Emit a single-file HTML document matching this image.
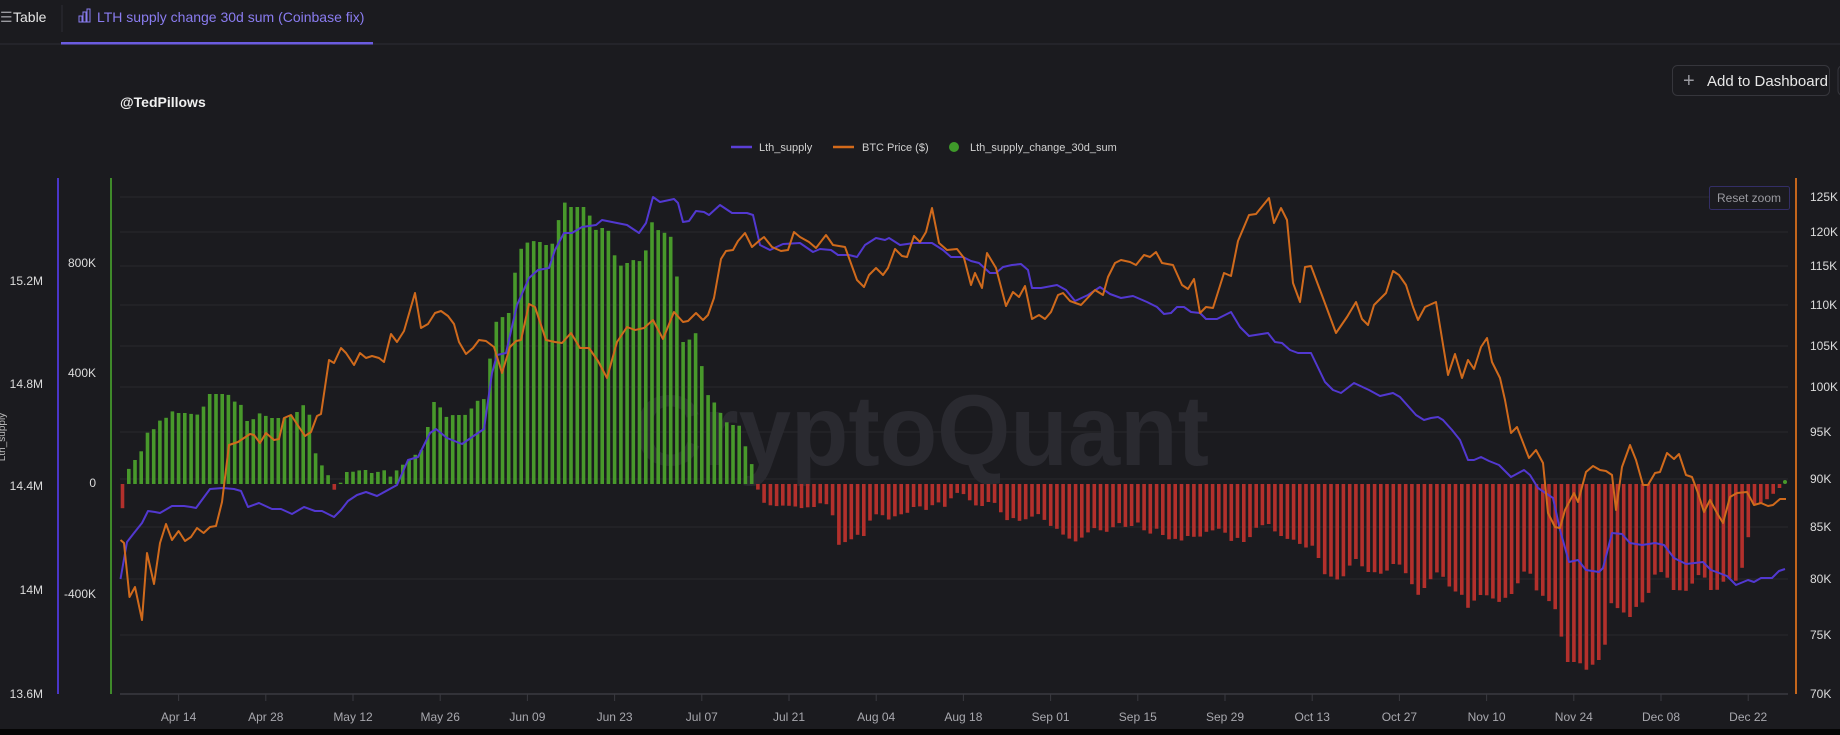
<!DOCTYPE html>
<html><head><meta charset="utf-8"><style>
html,body{margin:0;padding:0;background:#1b1b1f;width:1840px;height:735px;overflow:hidden}
svg{display:block}
text{font-family:"Liberation Sans",sans-serif}
</style></head><body>
<svg id="s" width="1840" height="735" viewBox="0 0 1840 735" xmlns="http://www.w3.org/2000/svg">
<rect width="1840" height="735" fill="#1b1b1f"/>
<line x1="0" y1="44" x2="1840" y2="44" stroke="#2e2e34" stroke-width="1"/>
<text x="0" y="22" font-size="14" fill="#9a9aa0">☰</text>
<text x="13" y="22" font-size="14" fill="#e6e6e6">Table</text>
<line x1="62" y1="5" x2="62" y2="32" stroke="#2e2e34"/>
<g stroke="#8a7cf0" stroke-width="1" fill="none"><rect x="79" y="16" width="3" height="6"/><rect x="83" y="12" width="3" height="10"/><rect x="87" y="9" width="3" height="13"/></g>
<text x="97" y="22" font-size="14" fill="#8a7cf0">LTH supply change 30d sum (Coinbase fix)</text>
<rect x="61" y="42" width="312" height="2.5" fill="#6b5ce0"/>
<text x="120" y="107" font-size="14" font-weight="bold" fill="#f0f0f0">@TedPillows</text>
<rect x="1672.5" y="65.5" width="157" height="30" rx="5" fill="none" stroke="#36363c"/>
<text x="1683" y="87" font-size="20" fill="#9a9aa0">+</text>
<text x="1707" y="86" font-size="15" fill="#e8e8e8">Add to Dashboard</text>
<rect x="1838" y="65.5" width="10" height="30" rx="5" fill="none" stroke="#36363c"/>
<line x1="731" y1="147" x2="752" y2="147" stroke="#5b3fd6" stroke-width="2.5"/>
<text x="759" y="151" font-size="11" fill="#d0d0d0">Lth_supply</text>
<line x1="833" y1="147" x2="854" y2="147" stroke="#d46a1a" stroke-width="2.5"/>
<text x="862" y="151" font-size="11" fill="#d0d0d0">BTC Price ($)</text>
<circle cx="954" cy="147" r="5" fill="#3f9a2a"/>
<text x="970" y="151" font-size="11" fill="#d0d0d0">Lth_supply_change_30d_sum</text>
<g id="grid"></g>
<text x="634" y="465" font-size="100" font-weight="bold" fill="#2a2a30" textLength="575" lengthAdjust="spacingAndGlyphs">CryptoQuant</text>
<g id="bars"></g>
<g id="lines"></g>
<line x1="58" y1="178" x2="58" y2="694" stroke="#4a36c8" stroke-width="2"/>
<line x1="111" y1="178" x2="111" y2="694" stroke="#3f8a2a" stroke-width="2"/>
<line x1="1796" y1="178" x2="1796" y2="694" stroke="#c4661c" stroke-width="2"/>
<line x1="120" y1="694" x2="1788" y2="694" stroke="#3a3a40" stroke-width="1.5"/>
<g font-size="12" fill="#dcdcdc" text-anchor="end">
<text x="43" y="285">15.2M</text><text x="43" y="388">14.8M</text><text x="43" y="490">14.4M</text><text x="43" y="594">14M</text><text x="43" y="698">13.6M</text>
<text x="96" y="267">800K</text><text x="96" y="377">400K</text><text x="96" y="487">0</text><text x="96" y="598">-400K</text>
</g>
<text transform="translate(5,437) rotate(-90)" font-size="10" fill="#bbb" text-anchor="middle">Lth_supply</text>
<g font-size="12" fill="#dcdcdc">
<text x="1810" y="201">125K</text><text x="1810" y="236">120K</text><text x="1810" y="270">115K</text><text x="1810" y="309">110K</text><text x="1810" y="350">105K</text><text x="1810" y="391">100K</text><text x="1810" y="436">95K</text><text x="1810" y="483">90K</text><text x="1810" y="531">85K</text><text x="1810" y="583">80K</text><text x="1810" y="639">75K</text><text x="1810" y="698">70K</text>
</g>
<g id="xl" font-size="12" fill="#a8a8ae" text-anchor="middle"></g>
<rect x="1709.5" y="186.5" width="80" height="23" rx="2" fill="#1b1b1f" stroke="#332e66"/>
<text x="1749" y="202" font-size="12" fill="#9a9aa0" text-anchor="middle">Reset zoom</text>
<rect x="0" y="729" width="1840" height="6" fill="#050505"/>
</svg>
<script>
var NS="http://www.w3.org/2000/svg";
function el(p,t,a){var e=document.createElementNS(NS,t);for(var k in a)e.setAttribute(k,a[k]);p.appendChild(e);return e;}
var g=document.getElementById('grid');
[197,232,266,305,346,387,432,479,527,579,635].forEach(function(y){el(g,'line',{x1:120,y1:y,x2:1788,y2:y,stroke:'#29292e','stroke-width':1});});
var xl=document.getElementById('xl');
var labs=["Apr 14","Apr 28","May 12","May 26","Jun 09","Jun 23","Jul 07","Jul 21","Aug 04","Aug 18","Sep 01","Sep 15","Sep 29","Oct 13","Oct 27","Nov 10","Nov 24","Dec 08","Dec 22"];
labs.forEach(function(l,i){var x=178.6+i*87.2;el(xl,'line',{x1:x,y1:694,x2:x,y2:701,stroke:'#3a3a40'});var t=el(xl,'text',{x:x,y:721});t.textContent=l;});
function interp(pts,x){if(x<=pts[0][0])return pts[0][1];for(var i=1;i<pts.length;i++){if(x<=pts[i][0]){var a=pts[i-1],b=pts[i];return a[1]+(b[1]-a[1])*(x-a[0])/(b[0]-a[0]);}}return pts[pts.length-1][1];}
var S=1.1735;
var env=[[122,512],[128,470],[135,460],[141,452],[147,433],[154,429],[159,421],[166,418],[171,411],[178,413],[185,413],[192,414],[197,415],[204,406],[209,394],[216,394],[222,394],[229,395],[235,402],[241,405],[247,421],[254,419],[260,413],[266,416],[272,418],[279,418],[285,418],[291,415],[297,412],[303,405],[309,412],[315,452],[321,464],[328,475],[334,490],[340,484],[345,472],[351,472],[357,471],[364,469],[370,473],[376,473],[383,469],[390,477],[397,470],[408,460],[415,455],[421,452],[427,430],[434,402],[440,407],[446,417],[453,415],[459,415],[465,415],[471,409],[477,401],[484,399],[489,365],[496,322],[502,317],[508,318],[514,277],[520,250],[528,242],[534,241],[540,242],[546,245],[552,245],[558,222],[564,202],[571,207],[578,207],[584,207],[590,216],[596,230],[602,228],[608,229],[613,252],[620,266],[627,263],[633,260],[639,262],[646,250],[651,221],[658,230],[665,233],[671,237],[677,277],[683,342],[688,342],[695,330],[702,367],[708,395],[714,402],[720,412],[726,422],[733,425],[739,425],[745,445],[752,465]];
var prev=[[645,415],[650,428],[655,430],[660,432],[665,430],[670,432],[675,430],[680,433],[685,433],[690,432],[695,432],[700,428],[705,430],[710,440],[715,465],[720,462],[725,460],[730,455],[735,460],[740,445],[745,440],[750,435],[755,445],[760,440],[765,440],[770,437],[775,437],[780,430],[785,432],[790,435],[795,430],[800,428],[805,432],[810,425],[815,420],[820,420],[825,425],[830,430],[835,432],[840,430],[845,425],[850,432],[855,440],[860,445],[865,440],[870,445],[875,442],[880,440],[885,438],[890,443],[895,448],[900,450],[905,455],[910,458],[915,462],[920,460],[925,455],[930,452],[935,448],[940,455],[945,452],[950,448],[955,445],[960,450],[965,448],[970,445],[975,452],[980,455],[985,450],[990,455],[995,460],[1000,458],[1005,462],[1010,458],[1015,455],[1020,460],[1025,455],[1030,452],[1035,452],[1040,450],[1045,455],[1050,462],[1055,458],[1060,462],[1065,458],[1070,450],[1075,448],[1080,445],[1085,452],[1090,455],[1095,460],[1100,458],[1105,462]];
prev.forEach(function(p){env.push([p[0]*S,p[1]*S]);});
[[1307,548],[1312,545],[1317,558],[1321,558],[1324,574],[1330,576],[1336,580],[1343,577],[1350,565],[1355,558],[1361,565],[1367,572],[1374,572],[1380,574],[1386,572],[1392,564],[1399,564],[1405,572],[1411,582],[1417,596],[1423,590],[1430,580],[1436,572],[1442,575],[1448,585],[1454,592],[1460,590],[1467,609],[1473,602],[1479,595],[1486,595],[1492,598],[1499,602],[1505,598],[1511,595],[1518,583],[1523,572],[1529,570],[1536,590],[1542,595],[1547,600],[1554,604],[1560,630],[1567,662],[1573,662],[1579,662],[1586,670],[1592,665],[1598,662],[1605,645],[1611,603],[1616,607],[1623,612],[1630,617],[1636,607],[1642,603],[1648,595],[1654,575],[1661,572],[1667,577],[1673,590],[1679,590],[1685,592],[1692,584],[1698,575],[1704,576],[1710,590],[1717,590],[1723,582],[1729,578],[1735,582],[1741,573],[1748,539],[1754,504],[1760,503],[1766,500],[1772,495],[1779,488]].forEach(function(p){env.push(p);});
var bars=document.getElementById('bars');
for(var d=-9;d<=257;d++){var x=178.6+d*6.229;var y=interp(env,x);var y0=484;
 if(Math.abs(y-y0)<0.5)continue;
 el(bars,'rect',{x:(x-1.8).toFixed(1),y:Math.min(y,y0).toFixed(1),width:3.6,height:Math.abs(y-y0).toFixed(1),fill:y<y0?'#48992b':'#b3302c'});}
el(bars,'circle',{cx:1785,cy:482,r:2,fill:'#48992b'});
var orange=[[120.5,540],[124,543],[129.5,597],[135,587],[142,620],[147,553],[154,584],[160,543],[166,524],[172,540],[178.6,531],[185,541],[191,537],[197,528],[203.6,533],[210,527],[216,526],[222,502],[229,445],[238,442],[250,434],[254,435],[260,443],[266,433],[274,440],[279,439],[284,418],[291,415],[299,427],[305,436],[311,432],[317,416],[321,414],[329,360],[334,363],[341,348],[346,353],[354,365],[360,353],[366,358],[372,356],[379,358],[384,362],[391,334],[397,342],[404,331],[415,293],[421,328],[428,324],[435,313],[441,311],[448,316],[454,324],[459,342],[466,354],[473,348],[479,340],[486,341],[494,347],[502,373],[510,347],[516,341],[521,340],[529,304],[535,307],[546,340],[555,342],[562,343],[571,333],[580,348],[589,348],[598,361],[607,378],[617,342],[627,327],[635,330],[644,328],[653,320],[663,339],[674,312],[683,322],[688,321],[696,313],[703,320],[708,315],[714,298],[721,259],[726,251],[733,250],[738,241],[745,233],[752,247],[760,240],[764,237],[772,247],[781,251],[788,250],[794,232],[800,237],[809,242],[816,248],[826,235],[833,245],[845,247],[857,280],[864,287],[869,275],[876,268],[883,275],[888,268],[895,249],[902,256],[907,257],[914,236],[920,242],[926,232],[932,208],[939,243],[947,250],[957,249],[964,258],[971,285],[975,273],[982,288],[987,253],[996,268],[1006,306],[1013,292],[1019,297],[1025,286],[1032,319],[1039,315],[1045,319],[1051,312],[1058,295],[1063,293],[1070,301],[1081,305],[1095,290],[1103,295],[1108,277],[1115,263],[1121,260],[1130,262],[1136,265],[1144,255],[1150,257],[1156,252],[1162,263],[1173,265],[1182,285],[1188,289],[1194,279],[1200,313],[1206,307],[1213,308],[1224,273],[1231,276],[1238,241],[1249,215],[1256,214],[1269,198],[1274,223],[1281,208],[1287,220],[1293,283],[1300,302],[1305,267],[1311,266],[1323,298],[1336,333],[1347,317],[1356,302],[1362,319],[1368,325],[1374,305],[1386,293],[1393,271],[1399,275],[1406,285],[1413,307],[1418,320],[1425,307],[1436,302],[1448,375],[1455,354],[1462,378],[1468,360],[1474,369],[1481,347],[1487,338],[1492,362],[1500,378],[1505,400],[1511,433],[1517,427],[1529,458],[1536,450],[1543,463],[1548,513],[1555,527],[1560,528],[1565,510],[1574,493],[1578,502],[1586,472],[1593,466],[1600,470],[1606,471],[1612,475],[1616,510],[1622,467],[1630,445],[1636,460],[1643,485],[1648,485],[1655,473],[1660,472],[1667,453],[1674,459],[1679,454],[1686,475],[1692,477],[1698,493],[1704,512],[1710,500],[1717,513],[1723,523],[1730,497],[1737,493],[1747,492],[1754,505],[1761,503],[1768,506],[1773,505],[1780,499],[1786,499]];
var purple=[[120.5,579],[127,542],[134,533],[142,523],[148,511],[155,512],[160,513],[172,506],[184,506],[191,507],[196,508],[210,489],[223,488],[234,489],[241,491],[248,507],[259,503],[272,509],[281,509],[292,514],[304,507],[315,511],[322,511],[334,517],[341,510],[348,501],[357,495],[366,492],[377,496],[397,485],[408,460],[418,457],[430,433],[436,429],[447,438],[462,444],[475,435],[484,429],[492,373],[497,355],[506,353],[517,305],[529,278],[538,270],[549,268],[555,250],[564,233],[572,233],[582,227],[596,225],[602,220],[627,225],[639,233],[646,223],[653,197],[660,202],[674,199],[678,203],[683,222],[689,221],[696,211],[704,212],[709,215],[720,205],[726,209],[732,213],[747,213],[753,215],[760,245],[770,250],[783,244],[800,243],[813,252],[820,249],[831,250],[838,255],[849,255],[857,257],[865,245],[876,238],[885,240],[889,238],[900,245],[914,243],[932,243],[943,250],[951,257],[963,257],[971,261],[979,263],[990,273],[996,273],[1003,267],[1012,265],[1021,264],[1028,270],[1032,288],[1041,288],[1057,285],[1066,290],[1075,301],[1088,295],[1100,287],[1110,294],[1121,298],[1133,296],[1147,302],[1157,307],[1164,314],[1171,313],[1177,307],[1184,307],[1191,312],[1200,313],[1206,319],[1217,319],[1231,312],[1240,327],[1249,336],[1268,333],[1275,342],[1282,343],[1290,350],[1298,353],[1311,353],[1325,382],[1333,390],[1341,393],[1354,383],[1369,390],[1380,396],[1393,393],[1400,397],[1416,415],[1424,420],[1431,418],[1438,417],[1443,420],[1452,430],[1460,440],[1468,460],[1474,460],[1481,457],[1489,461],[1499,465],[1511,477],[1524,470],[1530,475],[1538,488],[1553,498],[1560,530],[1569,562],[1578,560],[1586,570],[1599,572],[1603,568],[1612,533],[1622,534],[1630,543],[1642,545],[1655,543],[1664,545],[1674,558],[1686,564],[1703,562],[1711,570],[1727,576],[1736,585],[1748,580],[1754,582],[1761,578],[1772,578],[1779,571],[1785,569]];
var L=document.getElementById('lines');
function pl(pts,c){el(L,'polyline',{points:pts.map(function(p){return p[0]+','+p[1];}).join(' '),fill:'none',stroke:c,'stroke-width':2,'stroke-linejoin':'round'});}
pl(purple,'#5238d0');pl(orange,'#d06a1c');
</script>
</body></html>
